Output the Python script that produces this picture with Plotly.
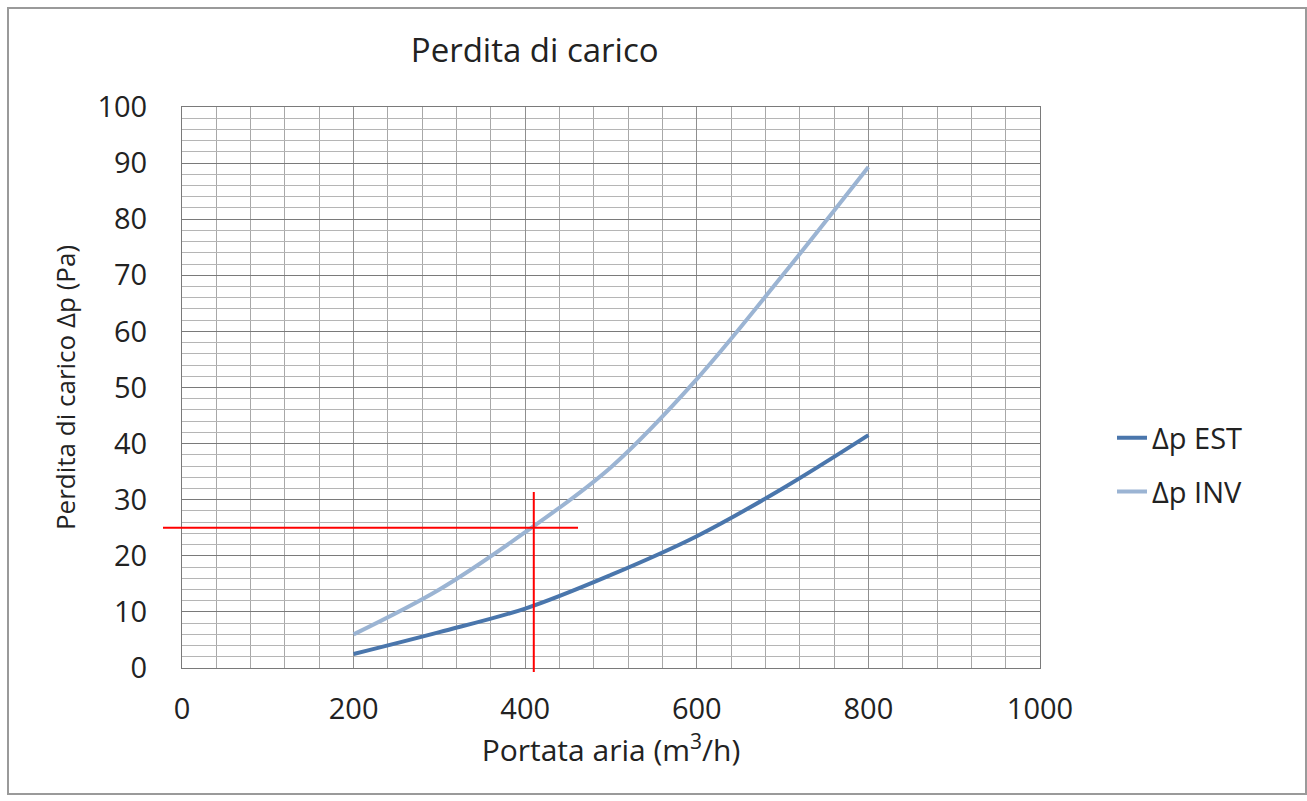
import plotly.graph_objects as go

flow = [200, 300, 400, 500, 600, 700, 800]
dp_est = [2.5, 6.4, 10.6, 16.6, 23.5, 32.0, 41.5]
dp_inv = [6.0, 14.0, 24.2, 35.8, 51.5, 70.0, 89.3]

x_ticks = [0, 200, 400, 600, 800, 1000]
y_ticks = [0, 10, 20, 30, 40, 50, 60, 70, 80, 90, 100]

mark_x = 410
mark_y = 25

FONT = "Open Sans"
fig = go.Figure()
fig.add_trace(go.Scatter(x=flow, y=dp_est, mode="lines", name="Δp EST", legendgroup="est",
                         line=dict(color="#4A76AC", width=4, shape="spline")))
fig.add_trace(go.Scatter(x=flow, y=dp_inv, mode="lines", name="Δp INV", legendgroup="inv",
                         line=dict(color="#9BB4D3", width=4, shape="spline")))

L, R, T, B = 182, 267, 107, 133
W, H = 1307, 801
pw, ph = W - L - R, H - T - B

def px_x(p):
    return (p - L) / pw

def px_y(p):
    return (H - B - p) / ph

fig.update_layout(
    width=W, height=H,
    margin=dict(l=L, r=R, t=T, b=B),
    paper_bgcolor="white", plot_bgcolor="white",
    font=dict(family=FONT, color="#222", size=24),
    title=dict(text="Perdita di carico", x=px_x(533), xanchor="center",
               y=1 - 50 / H, yanchor="middle",
               font=dict(size=33, family=FONT, color="#222")),
    showlegend=True,
    legend=dict(x=px_x(1112), y=px_y(465), xanchor="left", yanchor="middle",
                font=dict(size=29, family=FONT, color="#222"),
                bgcolor="rgba(0,0,0,0)", tracegroupgap=13),
    xaxis=dict(range=[0, 1000], tickvals=x_ticks, ticks="", showgrid=True,
               gridcolor="#8f8f8f", gridwidth=1,
               minor=dict(dtick=40, showgrid=True, gridcolor="#a8a8a8", gridwidth=1),
               showline=True, linecolor="#7a7a7a", linewidth=1, mirror=True,
               zeroline=False, ticklabelstandoff=15,
               tickfont=dict(size=29, family=FONT, color="#222"),
               title=dict(text="Portata aria (m<sup>3</sup>/h)", standoff=12,
                          font=dict(size=30, family=FONT, color="#222"))),
    yaxis=dict(range=[0, 100], tickvals=y_ticks, ticks="", showgrid=True,
               gridcolor="#7a7a7a", gridwidth=1,
               minor=dict(dtick=2, showgrid=True, gridcolor="#b5b5b5", gridwidth=1),
               showline=True, linecolor="#7a7a7a", linewidth=1, mirror=True,
               zeroline=False, ticklabelstandoff=28,
               tickfont=dict(size=29, family=FONT, color="#222"),
               title=dict(text="Perdita di carico Δp (Pa)", standoff=14,
                          font=dict(size=26, family=FONT, color="#222"))),
)

# outer chart border
fig.add_shape(type="rect", xref="paper", yref="paper",
              x0=px_x(8), x1=px_x(1306), y0=px_y(794), y1=px_y(8),
              line=dict(color="#9a9a9a", width=2), layer="below")

# red reading crosshair
fig.add_shape(type="line", xref="x", yref="paper", x0=mark_x, x1=mark_x,
              y0=px_y(672), y1=px_y(492), line=dict(color="#FF0000", width=2))
fig.add_shape(type="line", xref="paper", yref="y", x0=px_x(163), x1=px_x(578),
              y0=mark_y, y1=mark_y, line=dict(color="#FF0000", width=2))

fig.write_html("out.html")
